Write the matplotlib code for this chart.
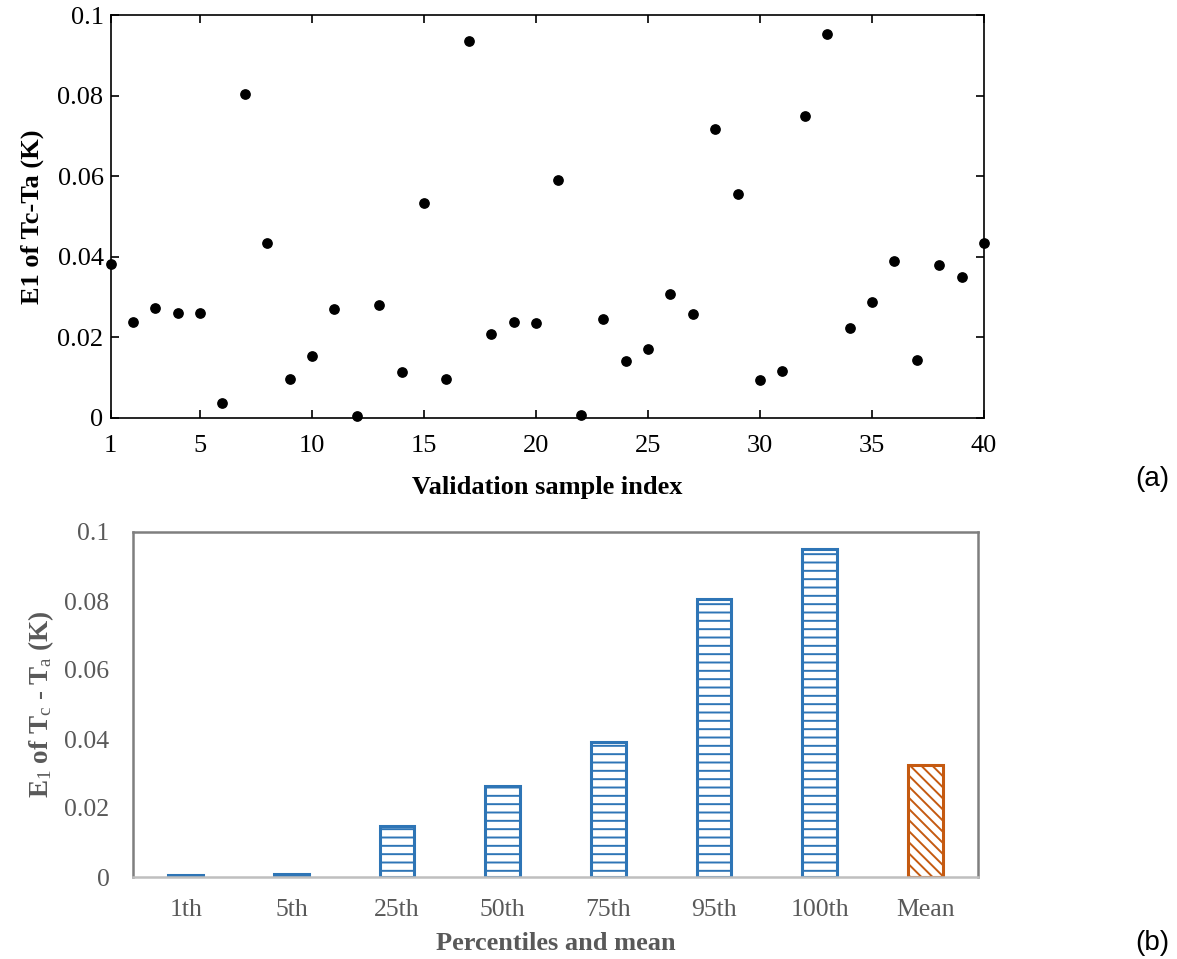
import matplotlib
matplotlib.use("Agg")
import matplotlib.pyplot as plt
import numpy as np

# ---- data: panel (a) ----
sample_index = list(range(1, 41))
e1_values = [0.0383, 0.0239, 0.0272, 0.0260, 0.0260, 0.0037, 0.0805, 0.0435,
             0.0096, 0.0155, 0.0270, 0.0004, 0.0280, 0.0114, 0.0533, 0.0096,
             0.0936, 0.0209, 0.0237, 0.0235, 0.0590, 0.0008, 0.0245, 0.0142,
             0.0172, 0.0307, 0.0258, 0.0718, 0.0555, 0.0094, 0.0116, 0.0750,
             0.0952, 0.0224, 0.0287, 0.0389, 0.0144, 0.0379, 0.0350, 0.0435]
xticks_a = [1, 5, 10, 15, 20, 25, 30, 35, 40]
yticks_a = [0, 0.02, 0.04, 0.06, 0.08, 0.1]
ytick_labels_a = ["0", "0.02", "0.04", "0.06", "0.08", "0.1"]

# ---- data: panel (b) ----
categories = ["1th", "5th", "25th", "50th", "75th", "95th", "100th", "Mean"]
bar_values = [0.0005, 0.0010, 0.0149, 0.0264, 0.0392, 0.0805, 0.0952, 0.0325]
yticks_b = [0, 0.02, 0.04, 0.06, 0.08, 0.1]
ytick_labels_b = ["0", "0.02", "0.04", "0.06", "0.08", "0.1"]

plt.rcParams['font.family'] = ['Liberation Serif', 'DejaVu Serif']
plt.rcParams['mathtext.fontset'] = 'custom'
plt.rcParams['mathtext.rm'] = 'Liberation Serif'
plt.rcParams['mathtext.bf'] = 'Liberation Serif:bold'
plt.rcParams['mathtext.it'] = 'Liberation Serif:italic'
plt.rcParams['hatch.linewidth'] = 1.4

W, H = 1177, 959
fig = plt.figure(figsize=(W / 100, H / 100), dpi=100)

# ---------------- panel (a) ----------------
l, r, t, b = 110.5, 984, 15, 418
ax1 = fig.add_axes([l / W, 1 - b / H, (r - l) / W, (b - t) / H])
ax1.scatter(sample_index, e1_values, s=45, color='black', zorder=3, clip_on=False)
ax1.set_xlim(1, 40)
ax1.set_ylim(0, 0.1)
ax1.set_xticks(xticks_a)
ax1.set_yticks(yticks_a)
ax1.set_yticklabels(ytick_labels_a)
ax1.tick_params(direction='in', top=True, right=True, length=6, width=1.2,
                labelsize=19, colors='black')
ax1.tick_params(axis='x', pad=12)
ax1.tick_params(axis='y', pad=5)
for s in ax1.spines.values():
    s.set_linewidth(1.2)
ax1.set_xlabel("Validation sample index", fontsize=19, fontweight='bold', labelpad=14)
ax1.set_ylabel("E1 of Tc-Ta (K)", fontsize=19, fontweight='bold', labelpad=10)

# ---------------- panel (b) ----------------
l2, r2, t2, b2 = 133, 978, 532, 877
ax2 = fig.add_axes([l2 / W, 1 - b2 / H, (r2 - l2) / W, (b2 - t2) / H])
xpos = np.arange(len(categories))
blue = '#2E75B6'
orange = '#C55A11'
for i, (c, v) in enumerate(zip(categories, bar_values)):
    if c == "Mean":
        ax2.bar(xpos[i], v, width=0.33, facecolor='white', edgecolor=orange,
                linewidth=2.2, hatch='\\\\\\', zorder=3)
    else:
        ax2.bar(xpos[i], v, width=0.33, facecolor='white', edgecolor=blue,
                linewidth=2.2, hatch='--', zorder=3)
ax2.set_xlim(-0.5, 7.5)
ax2.set_ylim(0, 0.1)
ax2.set_xticks(xpos)
ax2.set_xticklabels(categories)
ax2.set_yticks(yticks_b)
ax2.set_yticklabels(ytick_labels_b)
gray_text = '#595959'
ax2.tick_params(length=0, labelsize=18.5, colors=gray_text)
ax2.tick_params(axis='x', pad=16)
ax2.tick_params(axis='y', pad=17)
for k in ['top', 'left', 'right']:
    ax2.spines[k].set_color('#7F7F7F')
    ax2.spines[k].set_linewidth(1.8)
ax2.spines['bottom'].set_color('#BFBFBF')
ax2.spines['bottom'].set_linewidth(1.8)
ax2.spines['bottom'].set_zorder(4)
ax2.set_xlabel("Percentiles and mean", fontsize=19, fontweight='bold',
               color=gray_text, labelpad=8)
ax2.set_ylabel(r"$\mathbf{E}_{\mathrm{1}}\mathbf{\ of\ T}_{\mathrm{c}}\mathbf{\ \text{-}\ T}_{\mathrm{a}}\mathbf{\ (K)}$",
               fontsize=19.5, color=gray_text, labelpad=6)

# ---------------- panel labels ----------------
fig.text(1152 / W, 1 - 479 / H, "(a)", fontsize=20, family='Liberation Sans',
         ha='center', va='center')
fig.text(1152 / W, 1 - 943 / H, "(b)", fontsize=20, family='Liberation Sans',
         ha='center', va='center')

fig.savefig("out.png", dpi=100)
